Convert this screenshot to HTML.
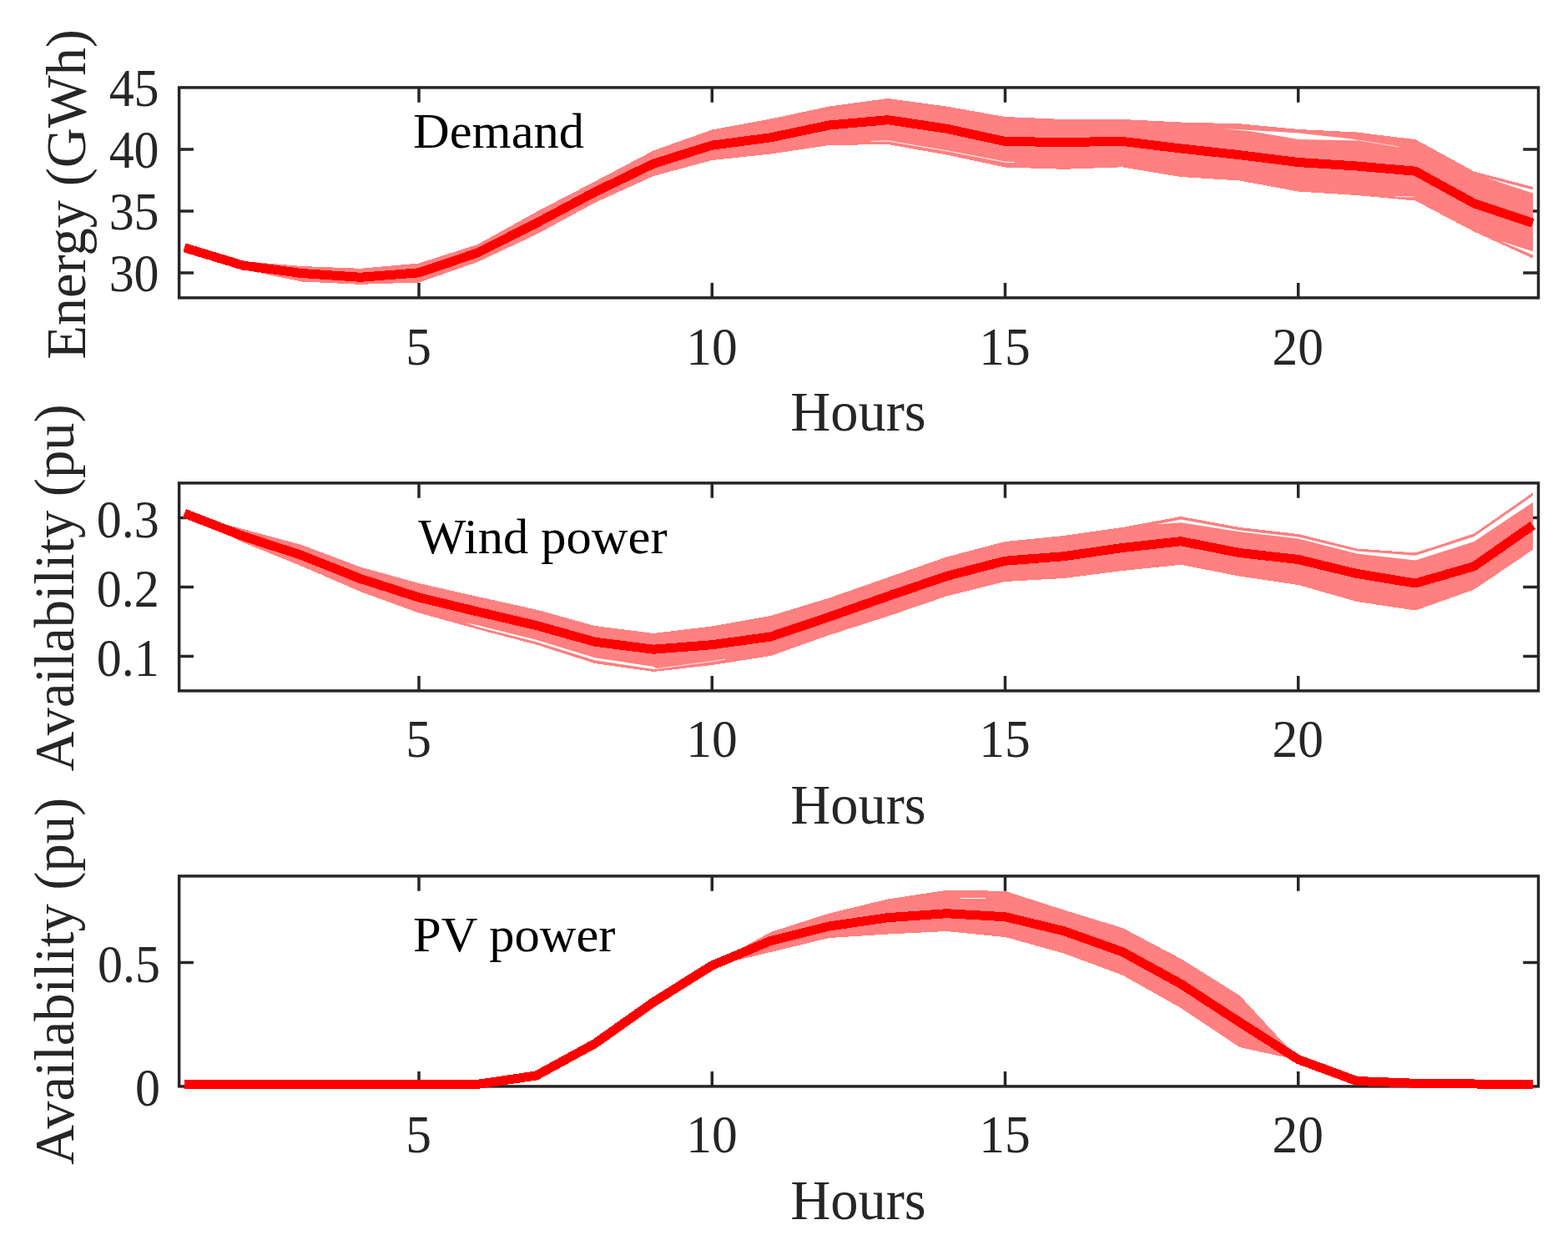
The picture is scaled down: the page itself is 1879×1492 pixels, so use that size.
<!DOCTYPE html>
<html lang="en"><head><meta charset="utf-8"><title>Demand, wind power and PV power scenarios</title>
<style>html,body{margin:0;padding:0;background:#fff}svg{display:block}text{font-family:"Liberation Serif",serif}</style></head>
<body>
<svg width="1879" height="1492" viewBox="0 0 1879 1492">
<rect width="1879" height="1492" fill="#fff"/>
<g id="panel1">
<g stroke="#262626" stroke-width="3.5" fill="none">
<rect x="214.65" y="104.9" width="1628.85" height="252.0"/>
<path d="M502.00 356.9V339.0M502.00 104.9V122.8"/>
<path d="M853.25 356.9V339.0M853.25 104.9V122.8"/>
<path d="M1204.50 356.9V339.0M1204.50 104.9V122.8"/>
<path d="M1555.75 356.9V339.0M1555.75 104.9V122.8"/>
<path d="M214.65 179.0H232M1843.5 179.0H1825.2"/>
<path d="M214.65 253.0H232M1843.5 253.0H1825.2"/>
<path d="M214.65 327.0H232M1843.5 327.0H1825.2"/>
</g>
<polygon points="221.0,296.8 291.2,313.0 361.5,319.0 431.8,321.8 502.0,315.5 572.2,293.0 642.5,254.0 712.8,217.5 783.0,180.5 853.2,155.5 923.5,142.5 993.8,127.5 1064.0,118.0 1134.2,127.5 1204.5,140.0 1274.8,143.0 1345.0,143.0 1415.2,146.5 1485.5,148.3 1555.8,155.0 1626.0,158.5 1696.2,167.2 1766.5,205.6 1837.3,224.1 1837.3,309.8 1766.5,277.6 1696.2,240.5 1626.0,234.0 1555.8,229.5 1485.5,216.5 1415.2,212.0 1345.0,200.3 1274.8,202.8 1204.5,200.5 1134.2,185.5 1064.0,173.0 993.8,174.0 923.5,184.5 853.2,192.0 783.0,211.0 712.8,243.0 642.5,281.0 572.2,314.0 502.0,338.5 431.8,340.8 361.5,337.5 291.2,323.0 221.0,296.8" fill="#ff8080" shape-rendering="crispEdges"/>
<polygon points="1465.0,153.9 1555.8,159.6 1620.0,166.6 1630.0,168.4 1555.8,167.1 1500.0,157.4" fill="#fff"/>
<polygon points="1781.8,213.3 1838.3,227.7 1838.3,232.0" fill="#fff"/>
<polygon points="1797.1,288.5 1838.3,301.7 1838.3,306.2" fill="#fff"/>
<polyline points="1044.0,169.4 1064.0,168.9 1134.2,180.7 1204.5,194.2 1216.0,194.6" fill="none" stroke="#fff" stroke-width="1.0"/>
<polyline points="1630.0,168.4 1676.2,176.0" fill="none" stroke="#fff" stroke-width="0.7"/>
<polyline points="1672.0,235.6 1694.0,235.8" fill="none" stroke="#fff" stroke-width="0.8"/>
<polyline points="221.0,296.8 291.2,318.1 361.5,327.5 431.8,332.3 502.0,326.8 572.2,303.0 642.5,267.5 712.8,230.2 783.0,196.2 853.2,174.2 923.5,164.8 993.8,150.0 1064.0,143.7 1134.2,154.2 1204.5,169.5 1274.8,170.5 1345.0,169.4 1415.2,178.0 1485.5,185.7 1555.8,194.5 1626.0,199.0 1696.2,205.2 1766.5,243.8 1836.8,267.4" fill="none" stroke="#ff0000" stroke-width="11" stroke-linejoin="round" stroke-linecap="butt" shape-rendering="crispEdges"/>
<g fill="#262626" font-size="61.5">
<text transform="translate(501.6 436.9) scale(1 1.02)" text-anchor="middle">5</text>
<text transform="translate(852.9 436.9) scale(1 1.02)" text-anchor="middle">10</text>
<text transform="translate(1204.1 436.9) scale(1 1.02)" text-anchor="middle">15</text>
<text transform="translate(1555.3 436.9) scale(1 1.02)" text-anchor="middle">20</text>
<text transform="translate(190.6 126.8) scale(0.975 1.02)" text-anchor="end">45</text>
<text transform="translate(190.6 200.9) scale(0.975 1.02)" text-anchor="end">40</text>
<text transform="translate(190.6 274.9) scale(0.975 1.02)" text-anchor="end">35</text>
<text transform="translate(190.6 348.9) scale(0.975 1.02)" text-anchor="end">30</text>
</g>
<g fill="#262626" font-size="66.5">
<text transform="translate(1028.4 516.1) scale(1 1.02)" text-anchor="middle">Hours</text>
<text transform="translate(101.5 232.9) rotate(-90) scale(1 1.02)" text-anchor="middle">Energy (GWh)</text>
</g>
<g fill="#000" font-size="60.5">
<text transform="translate(495.1 176.8) scale(1 0.985)">Demand</text>
</g>
</g>
<g id="panel2">
<g stroke="#262626" stroke-width="3.5" fill="none">
<rect x="214.65" y="578.9" width="1628.85" height="249.0"/>
<path d="M502.00 827.9V810.0M502.00 578.9V596.8"/>
<path d="M853.25 827.9V810.0M853.25 578.9V596.8"/>
<path d="M1204.50 827.9V810.0M1204.50 578.9V596.8"/>
<path d="M1555.75 827.9V810.0M1555.75 578.9V596.8"/>
<path d="M214.65 620.5H232M1843.5 620.5H1825.2"/>
<path d="M214.65 703.5H232M1843.5 703.5H1825.2"/>
<path d="M214.65 786.5H232M1843.5 786.5H1825.2"/>
</g>
<polygon points="221.0,615.2 291.2,634.0 361.5,653.0 431.8,679.5 502.0,699.0 572.2,715.0 642.5,730.5 712.8,750.0 783.0,759.0 853.2,750.5 923.5,738.0 993.8,716.5 1064.0,692.0 1134.2,667.5 1204.5,649.0 1274.8,642.0 1345.0,632.0 1415.2,619.0 1485.5,632.0 1555.8,640.0 1626.0,657.5 1696.2,662.5 1766.5,639.5 1837.3,590.0 1837.3,658.5 1766.5,706.5 1696.2,731.5 1626.0,721.0 1555.8,701.0 1485.5,690.5 1415.2,676.8 1345.0,684.0 1274.8,693.0 1204.5,697.0 1134.2,714.5 1064.0,738.5 993.8,761.0 923.5,786.0 853.2,797.0 783.0,805.0 712.8,795.0 642.5,772.5 572.2,754.0 502.0,734.5 431.8,709.0 361.5,678.5 291.2,650.0 221.0,615.2" fill="#ff8080" shape-rendering="crispEdges"/>
<polygon points="1386.0,628.3 1415.2,622.5 1485.5,635.6 1555.8,643.5 1626.0,660.5 1696.2,665.8 1766.5,643.0 1838.3,593.0 1838.3,601.0 1766.5,649.0 1696.2,671.5 1626.0,663.5 1555.8,645.5 1485.5,637.3 1415.2,626.2" fill="#fff"/>
<polygon points="558.2,746.2 572.2,749.2 642.5,766.8 712.8,788.3 783.0,798.8 787.0,801.6 783.0,802.0 712.8,791.2 642.5,769.2 572.2,751.2" fill="#fff"/>
<polyline points="786.0,801.5 853.2,792.6 869.0,790.0" fill="none" stroke="#fff" stroke-width="0.8"/>
<polyline points="221.0,615.2 291.2,642.5 361.5,665.5 431.8,693.5 502.0,716.0 572.2,733.0 642.5,749.5 712.8,769.2 783.0,778.2 853.2,772.7 923.5,763.0 993.8,739.2 1064.0,714.5 1134.2,690.5 1204.5,672.2 1274.8,666.7 1345.0,656.5 1415.2,648.7 1485.5,662.5 1555.8,670.5 1626.0,687.5 1696.2,699.0 1766.5,678.7 1836.8,629.5" fill="none" stroke="#ff0000" stroke-width="11" stroke-linejoin="round" stroke-linecap="butt" shape-rendering="crispEdges"/>
<g fill="#262626" font-size="61.5">
<text transform="translate(501.6 907.0) scale(1 1.02)" text-anchor="middle">5</text>
<text transform="translate(852.9 907.0) scale(1 1.02)" text-anchor="middle">10</text>
<text transform="translate(1204.1 907.0) scale(1 1.02)" text-anchor="middle">15</text>
<text transform="translate(1555.3 907.0) scale(1 1.02)" text-anchor="middle">20</text>
<text transform="translate(190.8 644.1) scale(0.975 1.02)" text-anchor="end">0.3</text>
<text transform="translate(190.8 727.1) scale(0.975 1.02)" text-anchor="end">0.2</text>
<text transform="translate(190.8 810.1) scale(0.975 1.02)" text-anchor="end">0.1</text>
</g>
<g fill="#262626" font-size="66.5">
<text transform="translate(1028.4 987.1) scale(1 1.02)" text-anchor="middle">Hours</text>
<text transform="translate(87.7 704.4) rotate(-90) scale(1 1.02)" text-anchor="middle">Availability (pu)</text>
</g>
<g fill="#000" font-size="60.5">
<text transform="translate(501.3 663.0) scale(1 0.985)">Wind power</text>
</g>
</g>
<g id="panel3">
<g stroke="#262626" stroke-width="3.5" fill="none">
<rect x="214.65" y="1049.9" width="1628.85" height="252.0"/>
<path d="M502.00 1301.9V1284.0M502.00 1049.9V1067.8"/>
<path d="M853.25 1301.9V1284.0M853.25 1049.9V1067.8"/>
<path d="M1204.50 1301.9V1284.0M1204.50 1049.9V1067.8"/>
<path d="M1555.75 1301.9V1284.0M1555.75 1049.9V1067.8"/>
<path d="M214.65 1153.6H232M1843.5 1153.6H1825.2"/>
</g>
<polygon points="221.0,1299.3 291.2,1299.3 361.5,1299.3 431.8,1299.3 502.0,1299.3 572.2,1299.4 642.5,1289.0 712.8,1250.7 783.0,1201.0 853.2,1156.0 923.5,1117.0 993.8,1094.5 1064.0,1077.5 1134.2,1066.8 1204.5,1067.8 1274.8,1090.5 1345.0,1112.0 1415.2,1149.0 1485.5,1193.0 1555.8,1269.0 1626.0,1295.5 1696.2,1298.3 1766.5,1299.0 1837.3,1299.3 1837.3,1299.3 1766.5,1299.0 1696.2,1298.3 1626.0,1295.5 1555.8,1270.5 1485.5,1255.0 1415.2,1208.0 1345.0,1168.5 1274.8,1142.5 1204.5,1123.0 1134.2,1116.0 1064.0,1119.5 993.8,1124.0 923.5,1141.0 853.2,1158.0 783.0,1201.0 712.8,1250.7 642.5,1289.0 572.2,1299.4 502.0,1299.3 431.8,1299.3 361.5,1299.3 291.2,1299.3 221.0,1299.3" fill="#ff8080" shape-rendering="crispEdges"/>
<polyline points="1151.0,1076.5 1181.0,1076.5" fill="none" stroke="#fff" stroke-width="1.0"/>
<polyline points="221.0,1299.3 291.2,1299.3 361.5,1299.3 431.8,1299.3 502.0,1299.3 572.2,1299.4 642.5,1289.0 712.8,1250.7 783.0,1201.0 853.2,1157.0 923.5,1127.5 993.8,1110.0 1064.0,1099.7 1134.2,1094.7 1204.5,1098.7 1274.8,1115.7 1345.0,1140.7 1415.2,1179.2 1485.5,1225.0 1555.8,1269.7 1626.0,1295.5 1696.2,1298.3 1766.5,1299.0 1836.8,1299.3" fill="none" stroke="#ff0000" stroke-width="11" stroke-linejoin="round" stroke-linecap="butt" shape-rendering="crispEdges"/>
<g fill="#262626" font-size="61.5">
<text transform="translate(501.6 1381.4) scale(1 1.02)" text-anchor="middle">5</text>
<text transform="translate(852.9 1381.4) scale(1 1.02)" text-anchor="middle">10</text>
<text transform="translate(1204.1 1381.4) scale(1 1.02)" text-anchor="middle">15</text>
<text transform="translate(1555.3 1381.4) scale(1 1.02)" text-anchor="middle">20</text>
<text transform="translate(191.9 1176.9) scale(0.975 1.02)" text-anchor="end">0.5</text>
<text transform="translate(191.9 1325.2) scale(0.975 1.02)" text-anchor="end">0</text>
</g>
<g fill="#262626" font-size="66.5">
<text transform="translate(1028.4 1461.1) scale(1 1.02)" text-anchor="middle">Hours</text>
<text transform="translate(87.7 1175.9) rotate(-90) scale(1 1.02)" text-anchor="middle">Availability (pu)</text>
</g>
<g fill="#000" font-size="60.5">
<text transform="translate(495.0 1140.1) scale(1 0.985)">PV power</text>
</g>
</g>
</svg>
</body></html>
